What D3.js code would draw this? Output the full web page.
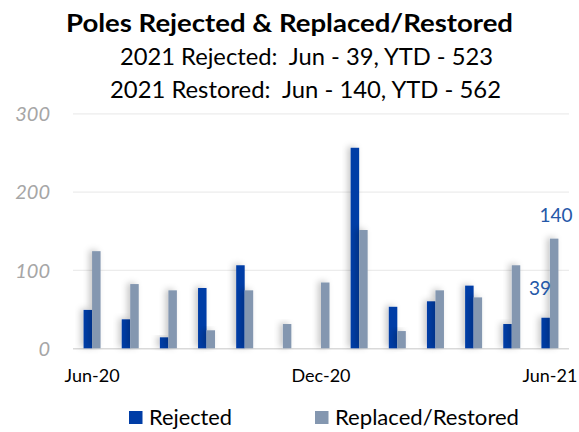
<!DOCTYPE html>
<html><head><meta charset="utf-8">
<script src="https://cdn.jsdelivr.net/npm/d3@7"></script>
<style>
html,body{margin:0;padding:0;background:#fff;}
svg{display:block;font-family:Lato,"Open Sans",sans-serif;}
text{white-space:pre;}
</style></head>
<body><svg id="chart" width="579" height="432"></svg>
<script>
const months = ["Jun-20","Jul-20","Aug-20","Sep-20","Oct-20","Nov-20","Dec-20","Jan-21","Feb-21","Mar-21","Apr-21","May-21","Jun-21"];
const rejected = [49, 37, 14, 77, 106, 0, 0, 256, 53, 60, 80, 31, 39];
const restored = [124, 82, 74, 23, 74, 31, 84, 151, 22, 74, 65, 106, 140];
const xTickLabels = ["Jun-20","Dec-20","Jun-21"];
const yTicks = [0, 100, 200, 300];
const seriesNames = ["Rejected","Replaced/Restored"];
const colors = ["#003da6","#8497b0"];
const titleText = "Poles Rejected & Replaced/Restored";
const subtitles = ["2021 Rejected:  Jun - 39, YTD - 523","2021 Restored:  Jun - 140, YTD - 562"];

(function(){
const svg = d3.select("#chart");
const pL = 73, pR = 569, pT = 113.3, pB = 348.3;
const FF = 'Lato, "Open Sans", sans-serif';

const defs = svg.append("defs");
const f = defs.append("filter").attr("id","sh").attr("x","-100%").attr("y","-20%").attr("width","300%").attr("height","140%");
f.append("feDropShadow").attr("dx",-3).attr("dy",-1).attr("stdDeviation",3).attr("flood-color","#000").attr("flood-opacity",0.22);

const x = d3.scaleBand().domain(months).range([pL,pR]).paddingInner(0).paddingOuter(0);
const y = d3.scaleLinear().domain([0,300]).range([pB,pT]);
const xs = d3.scaleBand().domain(seriesNames).range([-8.5,8.5]).padding(0);

const yAxis = d3.axisLeft(y).tickValues(yTicks).tickSize(-(pR-pL)).tickFormat(d=>d);
const gy = svg.append("g").attr("transform",`translate(${pL},0)`).call(yAxis).attr("font-family",FF);
gy.select(".domain").remove();
gy.selectAll(".tick line").attr("stroke",d=>d===0?"#d9d9d9":"#ececec").attr("stroke-width",d=>d===0?1.5:1.3);
gy.selectAll(".tick text").attr("fill","#a6a6a6").attr("font-size","20px").attr("font-style","italic")
  .attr("text-anchor","end").attr("x",50-pL).attr("dy","0.36em");

const data = months.map((m,i)=>({m, vals:[rejected[i], restored[i]]}));
const groups = svg.append("g").selectAll("g").data(data).join("g")
  .attr("transform",d=>`translate(${x(d.m)+x.bandwidth()/2},0)`);
groups.selectAll("rect").data(d=>d.vals.map((v,j)=>({v,s:seriesNames[j],j})).filter(e=>e.v>0)).join("rect")
  .attr("x",e=>xs(e.s)).attr("width",xs.bandwidth())
  .attr("y",e=>y(e.v)).attr("height",e=>y(0)-y(e.v))
  .attr("fill",e=>colors[e.j]).attr("filter","url(#sh)");

const xAxis = d3.axisBottom(x).tickValues(xTickLabels).tickSize(0).tickPadding(21);
const gx = svg.append("g").attr("transform",`translate(0,${pB})`).call(xAxis).attr("font-family",FF);
gx.select(".domain").remove();
gx.selectAll(".tick text").attr("fill","#000").attr("font-size","18px");

const last = months[months.length-1];
const cx = x(last)+x.bandwidth()/2;
svg.append("text").attr("x",cx-10).attr("y",y(rejected[12])-23).attr("text-anchor","middle")
  .attr("fill","#2558a8").attr("font-size","19px").text(rejected[12]);
svg.append("text").attr("x",cx+6).attr("y",y(restored[12])-17).attr("text-anchor","middle")
  .attr("fill","#2558a8").attr("font-size","19px").text(restored[12]);

svg.append("text").attr("x",289.5).attr("y",31.7).attr("text-anchor","middle").attr("font-weight","bold")
  .attr("font-size","25px").attr("textLength",447).attr("lengthAdjust","spacingAndGlyphs").text(titleText);
svg.append("text").attr("x",306.5).attr("y",65.3).attr("text-anchor","middle")
  .attr("font-size","24px").attr("textLength",373).attr("lengthAdjust","spacingAndGlyphs").text(subtitles[0]);
svg.append("text").attr("x",305.5).attr("y",97.7).attr("text-anchor","middle")
  .attr("font-size","24px").attr("textLength",391).attr("lengthAdjust","spacingAndGlyphs").text(subtitles[1]);

const legX = [129, 315];
const legW = [83, 184];
const lg = svg.append("g").selectAll("g").data(seriesNames).join("g")
  .attr("transform",(d,i)=>`translate(${legX[i]},411)`);
lg.append("rect").attr("width",13.5).attr("height",13).attr("fill",(d,i)=>colors[i]);
lg.append("text").attr("x",20).attr("y",14).attr("font-size","21px").attr("fill","#000")
  .attr("textLength",(d,i)=>legW[i]).attr("lengthAdjust","spacingAndGlyphs").text(d=>d);
})();
</script></body></html>
